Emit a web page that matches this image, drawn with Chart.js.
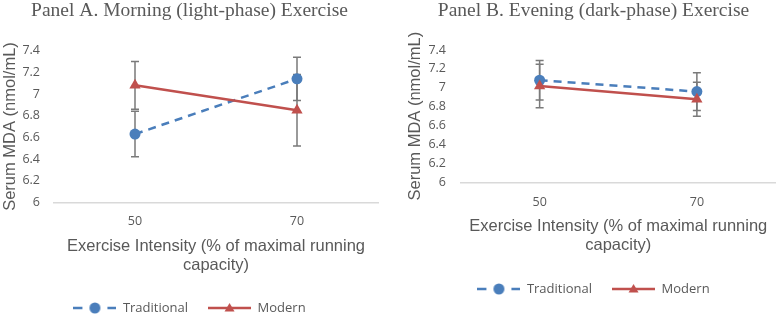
<!DOCTYPE html>
<html>
<head>
<meta charset="utf-8">
<script src="https://cdn.jsdelivr.net/npm/chart.js@4.4.1/dist/chart.umd.min.js"></script>
<style>
  body { margin: 0; background: #fff; }
  #wrap { position: relative; width: 782px; height: 315px; }
  .panel { position: absolute; top: 0; width: 391px; height: 315px; }
</style>
</head>
<body>
<div id="wrap">
  <div class="panel" style="left:0"><canvas id="panelA" width="391" height="315"></canvas></div>
  <div class="panel" style="left:391px"><canvas id="panelB" width="391" height="315"></canvas></div>
</div>
<script>
// exercise intensity categories (% of max running capacity)
const intensities = ['50', '70'];

// Panel A - morning (light phase)
const morningTraditional = [6.63, 7.14];
const morningTraditionalErr = [0.21, 0.20];
const morningModern = [7.08, 6.85];
const morningModernErr = [0.22, 0.33];

// Panel B - evening (dark phase)
const eveningTraditional = [7.08, 6.96];
const eveningTraditionalErr = [0.21, 0.20];
const eveningModern = [7.02, 6.88];
const eveningModernErr = [0.23, 0.18];

const yMin = 6, yMax = 7.4, yStep = 0.2;

const blue = '#4a7ebb';
const red = '#c0504d';
const grey = '#595959';

// little pictures for the legend (line + marker like excel)
function legendImage(kind) {
  var c = document.createElement('canvas');
  c.width = 43; c.height = 14;
  var ctx = c.getContext('2d');
  if (kind == 'trad') {
    ctx.strokeStyle = blue; ctx.lineWidth = 2.5;
    ctx.beginPath(); ctx.moveTo(0, 7); ctx.lineTo(9, 7); ctx.moveTo(34, 7); ctx.lineTo(43, 7); ctx.stroke();
    ctx.fillStyle = blue;
    ctx.beginPath(); ctx.arc(21.5, 7, 5.5, 0, Math.PI * 2); ctx.fill();
  } else {
    ctx.strokeStyle = red; ctx.lineWidth = 2.5;
    ctx.beginPath(); ctx.moveTo(0, 7); ctx.lineTo(43, 7); ctx.stroke();
    ctx.fillStyle = red;
    ctx.beginPath(); ctx.moveTo(21.5, 2); ctx.lineTo(26.5, 10.5); ctx.lineTo(16.5, 10.5); ctx.closePath(); ctx.fill();
  }
  return c;
}
const tradImg = legendImage('trad');
const modImg = legendImage('mod');

// error bars, drawn under the markers
const errorBars = {
  id: 'errorBars',
  beforeDatasetsDraw(chart) {
    const ctx = chart.ctx;
    const y = chart.scales.y;
    ctx.save();
    ctx.strokeStyle = '#7a7a7a';
    ctx.lineWidth = 1.5;
    chart.data.datasets.forEach((ds, i) => {
      if (!ds.errors) return;
      const meta = chart.getDatasetMeta(i);
      meta.data.forEach((pt, j) => {
        const top = y.getPixelForValue(ds.data[j] + ds.errors[j]);
        const bot = y.getPixelForValue(ds.data[j] - ds.errors[j]);
        ctx.beginPath();
        ctx.moveTo(pt.x, top); ctx.lineTo(pt.x, bot);
        ctx.moveTo(pt.x - 4, top); ctx.lineTo(pt.x + 4, top);
        ctx.moveTo(pt.x - 4, bot); ctx.lineTo(pt.x + 4, bot);
        ctx.stroke();
      });
    });
    ctx.restore();
  }
};

function makePanel(id, title, trad, tradErr, modern, modernErr, lay) {
  return new Chart(document.getElementById(id), {
    type: 'line',
    data: {
      labels: intensities,
      datasets: [
        {
          label: 'Traditional', data: trad, errors: tradErr, order: 1,
          borderColor: blue, backgroundColor: blue, borderWidth: 2.5, borderDash: [8, 6],
          pointStyle: 'circle', pointRadius: 5.5, pointBorderWidth: 0, pointBackgroundColor: blue
        },
        {
          label: 'Modern', data: modern, errors: modernErr, order: 0,
          borderColor: red, backgroundColor: red, borderWidth: 2.5,
          pointStyle: 'triangle', pointRadius: 6.5, pointBorderWidth: 0, pointBackgroundColor: red
        }
      ]
    },
    options: {
      responsive: false,
      animation: false,
      layout: { padding: { left: lay.left, right: lay.right, top: 0, bottom: lay.bottom } },
      plugins: {
        title: {
          display: true, text: title, color: grey,
          font: { family: 'Liberation Serif', size: 19.5, weight: 'normal', lineHeight: 1 },
          padding: { top: 1, bottom: lay.titleGap }
        },
        legend: {
          position: 'bottom',
          labels: {
            usePointStyle: true, pointStyleWidth: 43, padding: 20, color: grey,
            font: { family: 'Open Sans', size: 13 },
            generateLabels: function (chart) {
              return [
                { text: 'Traditional', pointStyle: tradImg, fontColor: grey, datasetIndex: 0, hidden: false, lineWidth: 0 },
                { text: 'Modern', pointStyle: modImg, fontColor: grey, datasetIndex: 1, hidden: false, lineWidth: 0 }
              ];
            }
          }
        },
        tooltip: { enabled: false }
      },
      scales: {
        x: {
          offset: true,
          grid: { display: false, drawTicks: false },
          border: { display: true, color: '#d9d9d9', width: 1.5 },
          ticks: { color: grey, padding: lay.xTickPad, font: { family: 'Open Sans', size: 12.5 } },
          title: {
            display: true, text: ['Exercise Intensity (% of maximal running', 'capacity)'], color: grey,
            font: { family: 'Liberation Sans', size: 16.5, lineHeight: 1.15 },
            padding: { top: 0, bottom: lay.xTitlePad }
          },
          afterFit: function (axis) { axis.height = lay.xHeight; }
        },
        y: {
          min: yMin, max: yMax,
          grid: { display: false, drawTicks: false },
          border: { display: false },
          ticks: {
            stepSize: yStep, color: grey, padding: lay.yTickPad,
            font: { family: 'Open Sans', size: 12.5 },
            callback: function (v) { return String(Number(v.toFixed(1))); }
          },
          title: {
            display: true, text: 'Serum MDA (nmol/mL)', color: grey,
            font: { family: 'Liberation Sans', size: 16.5, lineHeight: 1.15 },
            padding: 0
          },
          afterFit: function (axis) { axis.width = lay.yWidth; }
        }
      }
    },
    plugins: [errorBars]
  });
}

makePanel('panelA', 'Panel A. Morning (light-phase) Exercise',
  morningTraditional, morningTraditionalErr, morningModern, morningModernErr,
  { left: 1, right: 13, bottom: -9.5, titleGap: 30.2, xHeight: 79.2, xTitlePad: 7, xTickPad: 12, yTickPad: 14, yWidth: 53 });

makePanel('panelB', 'Panel B. Evening (dark-phase) Exercise',
  eveningTraditional, eveningTraditionalErr, eveningModern, eveningModernErr,
  { left: 15, right: 1, bottom: 9.5, titleGap: 29.5, xHeight: 80.2, xTitlePad: 8, xTickPad: 13, yTickPad: 15, yWidth: 55 });
</script>
</body>
</html>
